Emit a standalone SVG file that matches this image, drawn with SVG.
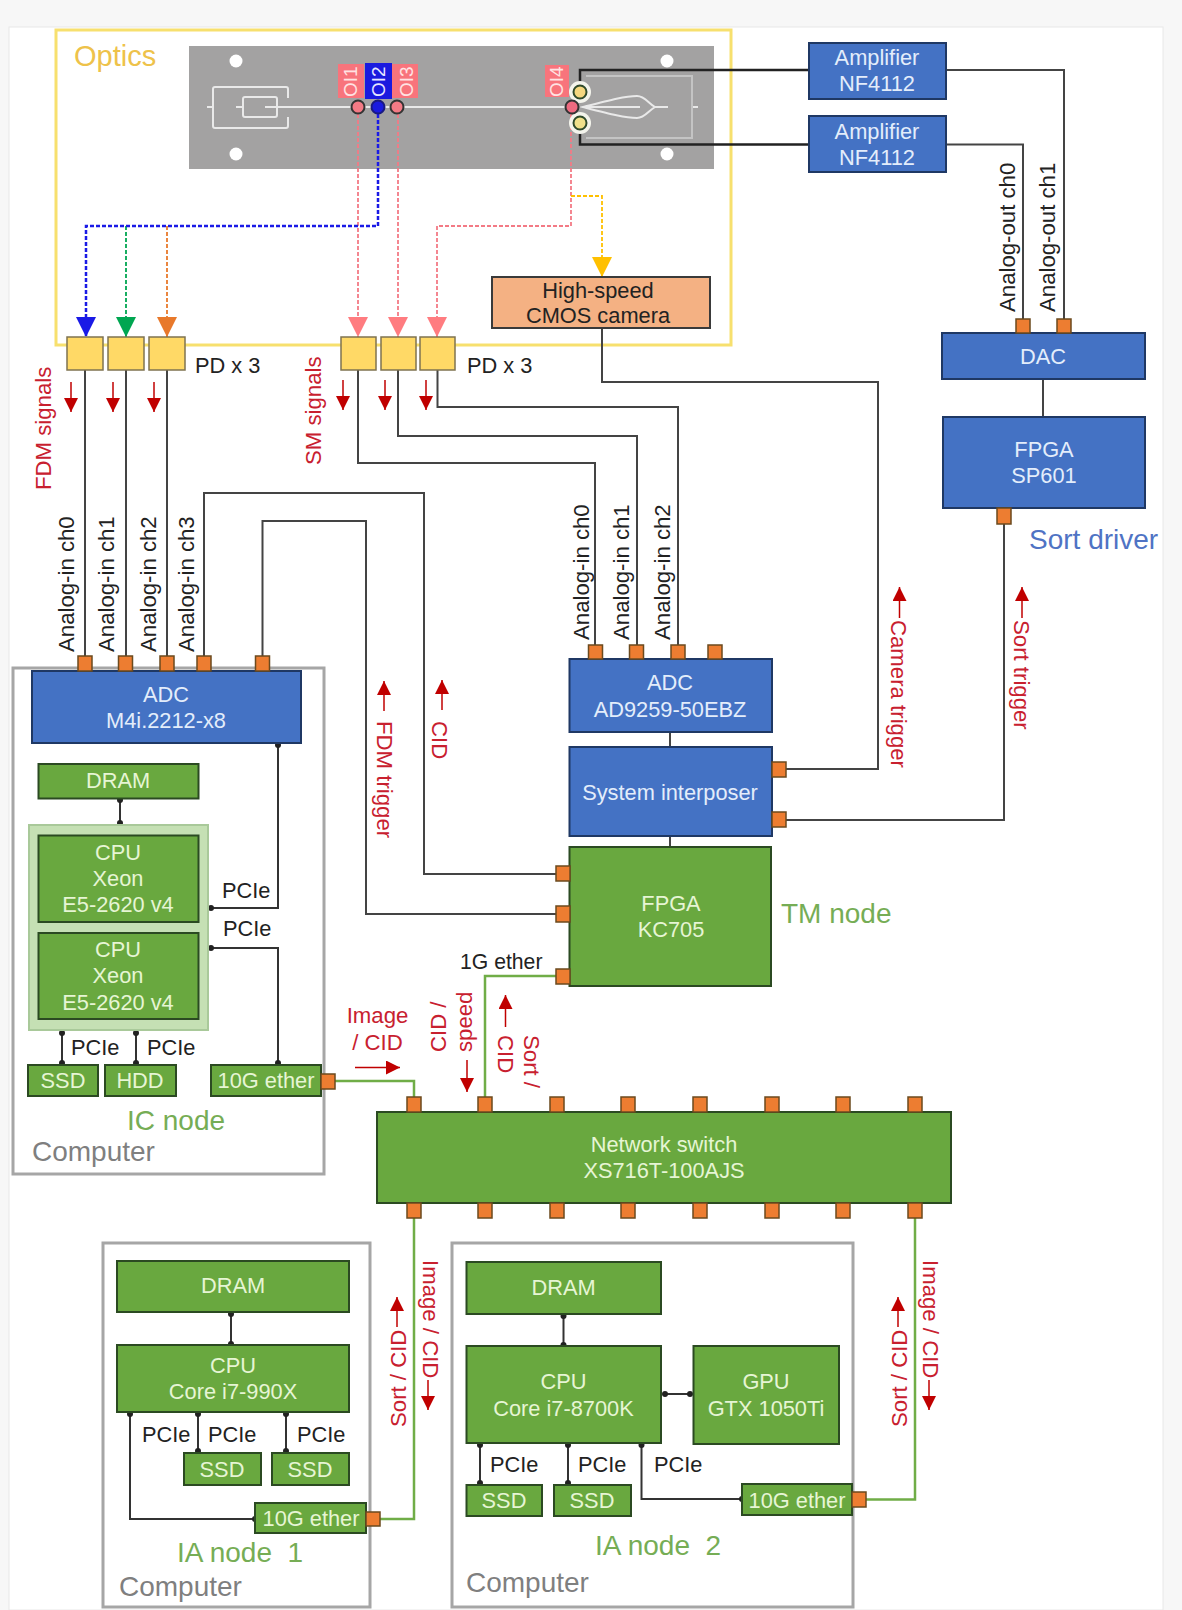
<svg xmlns="http://www.w3.org/2000/svg" width="1182" height="1610" viewBox="0 0 1182 1610">
<style>
text{font-family:"Liberation Sans",Arial,sans-serif;font-size:21.8px}
#labels text:not(.big){font-size:22.2px}
.m{text-anchor:middle}
rect.blue{fill:#4472c4;stroke:#1f3864;stroke-width:2}
rect.green{fill:#69a83f;stroke:#2b4a22;stroke-width:2}
.tb{fill:#e3edfb}.tg{fill:#e6f5d4}.tk{fill:#222}.tr{fill:#c8202f}
text.big{font-size:28px}.tn{fill:#76ad55}.tc{fill:#7f7f7f}.ts{fill:#4f73c4}
text.oi{font-size:19px}
.port{fill:#ed7d31;stroke:#6b4a1e;stroke-width:1.5}
.pd{fill:#ffd966;stroke:#7f7350;stroke-width:1.5}
.frame{fill:none;stroke:#a6a6a6;stroke-width:3}
.w{fill:none;stroke:#444;stroke-width:2}
.wk{fill:none;stroke:#222;stroke-width:2.5}
.wd{fill:none;stroke:#333;stroke-width:2;marker-start:url(#dot);marker-end:url(#dot)}
.ge{fill:none;stroke:#70ad47;stroke-width:2.5}
.da{fill:none;stroke-width:1.8;stroke-dasharray:4 2}
.dab{stroke-width:2.5}
.ra{fill:none;stroke:#c00000;stroke-width:1.5;marker-end:url(#ra)}
.pl{fill:none;stroke:#e9e9e9;stroke-width:2}
</style>
<defs>
<marker id="ra" markerUnits="userSpaceOnUse" markerWidth="16" markerHeight="16" refX="14" refY="7" orient="auto"><path d="M0 0L14 7L0 14Z" fill="#c00000"/></marker>
<marker id="dot" markerUnits="userSpaceOnUse" markerWidth="8" markerHeight="8" refX="4" refY="4"><circle cx="4" cy="4" r="3" fill="#222"/></marker>
<marker id="aB" markerUnits="userSpaceOnUse" markerWidth="22" markerHeight="22" refX="20" refY="10" orient="auto"><path d="M0 0L20 10L0 20Z" fill="#1a1ae6"/></marker>
<marker id="aG" markerUnits="userSpaceOnUse" markerWidth="22" markerHeight="22" refX="20" refY="10" orient="auto"><path d="M0 0L20 10L0 20Z" fill="#00a651"/></marker>
<marker id="aO" markerUnits="userSpaceOnUse" markerWidth="22" markerHeight="22" refX="20" refY="10" orient="auto"><path d="M0 0L20 10L0 20Z" fill="#e8792b"/></marker>
<marker id="aP" markerUnits="userSpaceOnUse" markerWidth="22" markerHeight="22" refX="20" refY="10" orient="auto"><path d="M0 0L20 10L0 20Z" fill="#ff7c80"/></marker>
<marker id="aY" markerUnits="userSpaceOnUse" markerWidth="22" markerHeight="22" refX="20" refY="10" orient="auto"><path d="M0 0L20 10L0 20Z" fill="#ffc000"/></marker>
</defs>
<rect width="1182" height="1610" fill="#f7f7f7"/>
<rect x="9" y="27" width="1154" height="1583" fill="#fff" stroke="#e8e8e8"/>

<g id="optics">
<rect x="56" y="30" width="675" height="315" fill="none" stroke="#f7e06e" stroke-width="3"/>
<text x="74" y="66" class="big" fill="#eec24a" style="font-size:29px">Optics</text>
</g>
<g id="chip">
<rect x="189" y="46" width="525" height="123" fill="#a3a2a2"/>
<g fill="#fff"><circle cx="236" cy="61" r="6.5"/><circle cx="236" cy="154" r="6.5"/><circle cx="667" cy="61" r="6.5"/><circle cx="667" cy="154" r="6.5"/></g>
<path class="pl" d="M207 107H212M236 107H242M265 107H572M288 98V89Q288 87 286 87H215Q213 87 213 89V126Q213 128 215 128H286Q288 128 288 126V117"/>
<rect class="pl" x="243" y="97" width="34" height="20" rx="2"/>
<path d="M586 76H692V138H586" fill="none" stroke="#c4c4c4" stroke-width="2"/>
<path class="pl" d="M583 107C610 100 625 96 637 96C645 96 648 103 655 107C648 111 645 118 637 118C625 118 610 114 583 107ZM583 107H640M655 107H668M693 107H698"/>
<g fill="#f8747c"><rect x="338" y="64" width="26" height="34"/><rect x="392" y="64" width="26" height="34"/><rect x="545" y="65" width="24" height="32"/></g>
<rect x="365" y="63" width="27" height="36" fill="#1a1adf"/>
</g>
<g id="labels-oi">
<text transform="translate(357 97) rotate(-90)" class="oi" fill="#ffe3e3">OI1</text>
<text transform="translate(385 97) rotate(-90)" class="oi" fill="#e6e6ff">OI2</text>
<text transform="translate(413 97) rotate(-90)" class="oi" fill="#ffe3e3">OI3</text>
<text transform="translate(563 97) rotate(-90)" class="oi" fill="#ffe3e3">OI4</text>
</g>

<g id="computer-frames">
<rect class="frame" x="13" y="668" width="311" height="506"/>
<rect class="frame" x="103" y="1243" width="267" height="364"/>
<rect class="frame" x="452" y="1243" width="401" height="364"/>
</g>

<g id="connectors">
<path class="da" stroke="#f37a85" marker-end="url(#aP)" d="M358 114V337"/>
<path class="da" stroke="#f37a85" marker-end="url(#aP)" d="M398 114V337"/>
<path class="da" stroke="#f37a85" marker-end="url(#aP)" d="M571 114V226H437V337"/>
<path class="da" stroke="#ffc000" marker-end="url(#aY)" d="M571 196H602V277"/>
<path class="da" stroke="#00a651" marker-end="url(#aG)" d="M126 226V337"/>
<path class="da" stroke="#e8792b" marker-end="url(#aO)" d="M167 226V337"/>
<path class="da dab" stroke="#1a1ae6" marker-end="url(#aB)" d="M378 114V226H86V337"/>
<path class="wk" d="M580 92V70H809"/>
<path class="wk" d="M580 123V144.500H809"/>
<path class="w" d="M946 70H1064V319"/>
<path class="w" d="M946 144.500H1023V319"/>
<path class="w" d="M1043 379V417"/>
<path class="w" d="M602 328V382H878V769H786"/>
<path class="w" d="M1004 524V820H786"/>
<path class="w" d="M85 370V656"/>
<path class="w" d="M126 370V656"/>
<path class="w" d="M167 370V656"/>
<path class="w" d="M358 370V463H595V645"/>
<path class="w" d="M398 370V436H637V645"/>
<path class="w" d="M437.500 370V407H678V645"/>
<path class="w" d="M204 656V493H424V874H556"/>
<path class="w" d="M262.500 656V521H366V914H556"/>
<path class="w" d="M670 732V747"/>
<path class="w" d="M670 836V847"/>
<path class="wd" d="M278 745V908H211"/>
<path class="wd" d="M211 948H278V1063"/>
<path class="wd" d="M120 800V823"/>
<path class="wd" d="M62 1033V1063"/>
<path class="wd" d="M136 1033V1063"/>
<path class="wd" d="M231 1314V1344"/>
<path class="wd" d="M198 1414V1451"/>
<path class="wd" d="M286 1414V1451"/>
<path class="wd" d="M130 1414V1519H255"/>
<path class="wd" d="M563.500 1316V1345"/>
<path class="wd" d="M665 1394H690"/>
<path class="wd" d="M480 1445V1483"/>
<path class="wd" d="M568 1445V1483"/>
<path class="wd" d="M641.500 1445V1499H742"/>
<path class="ge" d="M335 1081H414V1097"/>
<path class="ge" d="M556 976H485V1097"/>
<path class="ge" d="M380 1519H414V1218"/>
<path class="ge" d="M866 1499.500H915V1218"/>
<g id="signal-arrows">
<path class="ra" d="M71 382V412"/><path class="ra" d="M113 382V412"/><path class="ra" d="M154 382V412"/>
<path class="ra" d="M343 380V410"/><path class="ra" d="M385 380V410"/><path class="ra" d="M426 380V410"/>
<path class="ra" d="M384 711V681"/><path class="ra" d="M442 710V680"/>
<path class="ra" d="M899.500 618V587"/><path class="ra" d="M1022 618V587"/>
<path class="ra" d="M355 1067.500H400"/><path class="ra" d="M467 1060V1092"/><path class="ra" d="M505.500 1027V995"/>
<path class="ra" d="M397 1327V1297"/><path class="ra" d="M428 1380V1410"/>
<path class="ra" d="M898 1327V1297"/><path class="ra" d="M929 1380V1410"/>
</g>
</g>

<g id="oi-dots" stroke="#333" stroke-width="2">
<circle cx="580" cy="92" r="11" fill="#f4f4ec" stroke="none"/><circle cx="580" cy="123" r="11" fill="#f4f4ec" stroke="none"/>
<circle cx="358" cy="107" r="6.500" fill="#f37a85"/><circle cx="378" cy="107" r="6.500" fill="#1a1adf" stroke="#1a1a80"/><circle cx="397" cy="107" r="6.500" fill="#f37a85"/>
<circle cx="572" cy="107" r="6.500" fill="#ee6a80"/>
<circle cx="580" cy="92" r="6.500" fill="#f5d77f" stroke="#2f4a2a"/><circle cx="580" cy="123" r="6.500" fill="#f0e08a" stroke="#2f4a2a"/>
</g>

<g id="pd-a"><rect class="pd" x="67" y="337" width="36" height="33"/><rect class="pd" x="108" y="337" width="36" height="33"/><rect class="pd" x="149" y="337" width="36" height="33"/><text x="195" y="373" class="tk">PD x 3</text></g>
<g id="pd-b"><rect class="pd" x="341" y="337" width="35" height="33"/><rect class="pd" x="381" y="337" width="35" height="33"/><rect class="pd" x="420" y="337" width="35" height="33"/><text x="467" y="373" class="tk">PD x 3</text></g>
<g id="camera"><rect x="492" y="277" width="218" height="51" fill="#f4b183" stroke="#3a3a3a" stroke-width="2"/><text x="598" y="298" class="m tk">High-speed</text><text x="598" y="323" class="m tk">CMOS camera</text></g>

<g id="amp1"><rect class="blue" x="809" y="43" width="137" height="56"/><text x="877" y="65" class="m tb">Amplifier</text><text x="877" y="91" class="m tb">NF4112</text></g>
<g id="amp2"><rect class="blue" x="809" y="116" width="137" height="56"/><text x="877" y="139" class="m tb">Amplifier</text><text x="877" y="165" class="m tb">NF4112</text></g>
<g id="dac"><rect class="blue" x="942" y="333" width="203" height="46"/><text x="1043" y="364" class="m tb">DAC</text><rect class="port" x="1016" y="319" width="14" height="14"/><rect class="port" x="1057" y="319" width="14" height="14"/></g>
<g id="fpga-sp601"><rect class="blue" x="943" y="417" width="202" height="91"/><text x="1044" y="457" class="m tb">FPGA</text><text x="1044" y="483" class="m tb">SP601</text><rect class="port" x="997" y="508" width="14" height="16"/></g>
<g id="adc-m4i"><rect class="blue" x="32" y="671" width="269" height="72"/><text x="166" y="702" class="m tb">ADC</text><text x="166" y="728" class="m tb">M4i.2212-x8</text>
<rect class="port" x="78" y="656" width="14" height="15"/><rect class="port" x="118.500" y="656" width="14" height="15"/><rect class="port" x="160" y="656" width="14" height="15"/><rect class="port" x="197" y="656" width="14" height="15"/><rect class="port" x="255.500" y="656" width="14" height="15"/></g>
<g id="adc-ad9259"><rect class="blue" x="569.500" y="659" width="202.500" height="73"/><text x="670" y="690" class="m tb">ADC</text><text x="670" y="717" class="m tb">AD9259-50EBZ</text>
<rect class="port" x="588.500" y="645" width="14" height="14"/><rect class="port" x="629.500" y="645" width="14" height="14"/><rect class="port" x="671" y="645" width="14" height="14"/><rect class="port" x="708" y="645" width="14" height="14"/></g>
<g id="interposer"><rect class="blue" x="569.500" y="747" width="202.500" height="89"/><text x="670" y="800" class="m tb">System interposer</text><rect class="port" x="772" y="762" width="14" height="15"/><rect class="port" x="772" y="812" width="14" height="15"/></g>
<g id="fpga-kc705"><rect class="green" x="569.500" y="847" width="201.500" height="139"/><text x="671" y="911" class="m tg">FPGA</text><text x="671" y="937" class="m tg">KC705</text>
<rect class="port" x="556" y="866" width="14" height="15"/><rect class="port" x="556" y="906" width="14" height="16"/><rect class="port" x="556" y="969" width="14" height="15"/></g>

<g id="switch"><rect class="green" x="377" y="1112" width="574" height="91"/><text x="664" y="1152" class="m tg">Network switch</text><text x="664" y="1178" class="m tg">XS716T-100AJS</text>
<g id="switch-ports-top"><rect class="port" x="407" y="1097" width="14" height="15"/><rect class="port" x="478" y="1097" width="14" height="15"/><rect class="port" x="550" y="1097" width="14" height="15"/><rect class="port" x="621" y="1097" width="14" height="15"/><rect class="port" x="693" y="1097" width="14" height="15"/><rect class="port" x="765" y="1097" width="14" height="15"/><rect class="port" x="836" y="1097" width="14" height="15"/><rect class="port" x="908" y="1097" width="14" height="15"/></g>
<g id="switch-ports-bottom"><rect class="port" x="407" y="1203" width="14" height="15"/><rect class="port" x="478" y="1203" width="14" height="15"/><rect class="port" x="550" y="1203" width="14" height="15"/><rect class="port" x="621" y="1203" width="14" height="15"/><rect class="port" x="693" y="1203" width="14" height="15"/><rect class="port" x="765" y="1203" width="14" height="15"/><rect class="port" x="836" y="1203" width="14" height="15"/><rect class="port" x="908" y="1203" width="14" height="15"/></g>
</g>

<g id="ic-node">
<rect class="green" x="38.500" y="764" width="160" height="34.500"/><text x="118" y="788" class="m tg">DRAM</text>
<rect x="29" y="825" width="179" height="205" fill="#c5e0b4" stroke="#a9c99a" stroke-width="2"/>
<rect class="green" x="38.500" y="835.500" width="160" height="86.500"/><text x="118" y="860" class="m tg">CPU</text><text x="118" y="886" class="m tg">Xeon</text><text x="118" y="912" class="m tg">E5-2620 v4</text>
<rect class="green" x="38.500" y="933" width="160" height="86"/><text x="118" y="957" class="m tg">CPU</text><text x="118" y="983" class="m tg">Xeon</text><text x="118" y="1010" class="m tg">E5-2620 v4</text>
<rect class="green" x="28" y="1065" width="70" height="31"/><text x="63" y="1088" class="m tg">SSD</text>
<rect class="green" x="105" y="1065" width="71" height="31"/><text x="140" y="1088" class="m tg">HDD</text>
<rect class="green" x="211" y="1065" width="110" height="31"/><text x="266" y="1088" class="m tg">10G ether</text>
<rect class="port" x="321" y="1074" width="14" height="15"/>
<text x="222" y="898" class="tk">PCIe</text><text x="223" y="936" class="tk">PCIe</text><text x="71" y="1055" class="tk">PCIe</text><text x="147" y="1055" class="tk">PCIe</text>
<text x="127" y="1130" class="big tn">IC node</text><text x="32" y="1161" class="big tc">Computer</text>
</g>

<g id="ia-node-1">
<rect class="green" x="117" y="1261" width="232" height="51"/><text x="233" y="1293" class="m tg">DRAM</text>
<rect class="green" x="117" y="1345" width="232" height="67"/><text x="233" y="1373" class="m tg">CPU</text><text x="233" y="1399" class="m tg">Core i7-990X</text>
<rect class="green" x="184" y="1453" width="77" height="32"/><text x="222" y="1477" class="m tg">SSD</text>
<rect class="green" x="272" y="1453" width="77" height="32"/><text x="310" y="1477" class="m tg">SSD</text>
<rect class="green" x="255" y="1503" width="111" height="30"/><text x="311" y="1526" class="m tg">10G ether</text>
<rect class="port" x="366" y="1512" width="14" height="14"/>
<text x="142" y="1442" class="tk">PCIe</text><text x="208" y="1442" class="tk">PCIe</text><text x="297" y="1442" class="tk">PCIe</text>
<text x="177" y="1562" class="big tn" xml:space="preserve">IA node  1</text><text x="119" y="1596" class="big tc">Computer</text>
</g>

<g id="ia-node-2">
<rect class="green" x="466.500" y="1262" width="194.500" height="52"/><text x="563.500" y="1295" class="m tg">DRAM</text>
<rect class="green" x="466.500" y="1346" width="194.500" height="97"/><text x="563.500" y="1389" class="m tg">CPU</text><text x="563.500" y="1416" class="m tg">Core i7-8700K</text>
<rect class="green" x="693.500" y="1346" width="145.500" height="98"/><text x="766" y="1389" class="m tg">GPU</text><text x="766" y="1416" class="m tg">GTX 1050Ti</text>
<rect class="green" x="466.500" y="1485" width="75.500" height="31"/><text x="504" y="1508" class="m tg">SSD</text>
<rect class="green" x="554" y="1485" width="77" height="31"/><text x="592" y="1508" class="m tg">SSD</text>
<rect class="green" x="742" y="1484" width="110" height="31"/><text x="797" y="1508" class="m tg">10G ether</text>
<rect class="port" x="852" y="1492" width="14" height="15"/>
<text x="490" y="1472" class="tk">PCIe</text><text x="578" y="1472" class="tk">PCIe</text><text x="654" y="1472" class="tk">PCIe</text>
<text x="595" y="1555" class="big tn" xml:space="preserve">IA node  2</text><text x="466" y="1592" class="big tc">Computer</text>
</g>

<g id="labels">
<text x="781" y="923" class="big tn">TM node</text>
<text x="1029" y="549" class="big ts">Sort driver</text>
<text x="460" y="969" class="tk" style="font-size:21.2px">1G ether</text>
<text transform="translate(51 490) rotate(-90)" class="tr">FDM signals</text>
<text transform="translate(321 465) rotate(-90)" class="tr">SM signals</text>
<text transform="translate(74 652) rotate(-90)" class="tk">Analog-in ch0</text>
<text transform="translate(114 652) rotate(-90)" class="tk">Analog-in ch1</text>
<text transform="translate(156 652) rotate(-90)" class="tk">Analog-in ch2</text>
<text transform="translate(194 652) rotate(-90)" class="tk">Analog-in ch3</text>
<text transform="translate(589 640) rotate(-90)" class="tk">Analog-in ch0</text>
<text transform="translate(629 640) rotate(-90)" class="tk">Analog-in ch1</text>
<text transform="translate(670 640) rotate(-90)" class="tk">Analog-in ch2</text>
<text transform="translate(1015 312) rotate(-90)" class="tk">Analog-out ch0</text>
<text transform="translate(1055 312) rotate(-90)" class="tk">Analog-out ch1</text>
<text transform="translate(891 620) rotate(90)" class="tr">Camera trigger</text>
<text transform="translate(1014 620) rotate(90)" class="tr">Sort trigger</text>
<text transform="translate(377 721) rotate(90)" class="tr">FDM trigger</text>
<text transform="translate(432 721) rotate(90)" class="tr">CID</text>
<text x="377.500" y="1023" class="m tr">Image</text>
<text x="377.500" y="1050" class="m tr">/ CID</text>
<text transform="translate(446 1052) rotate(-90)" class="tr">CID /</text>
<text transform="translate(472 1052) rotate(-90)" class="tr">speed</text>
<text transform="translate(498 1035) rotate(90)" class="tr">CID</text>
<text transform="translate(524 1035) rotate(90)" class="tr">Sort /</text>
<text transform="translate(406 1427) rotate(-90)" class="tr">Sort / CID</text>
<text transform="translate(423 1260) rotate(90)" class="tr">Image / CID</text>
<text transform="translate(907 1427) rotate(-90)" class="tr">Sort / CID</text>
<text transform="translate(923 1260) rotate(90)" class="tr">Image / CID</text>
</g>
</svg>
